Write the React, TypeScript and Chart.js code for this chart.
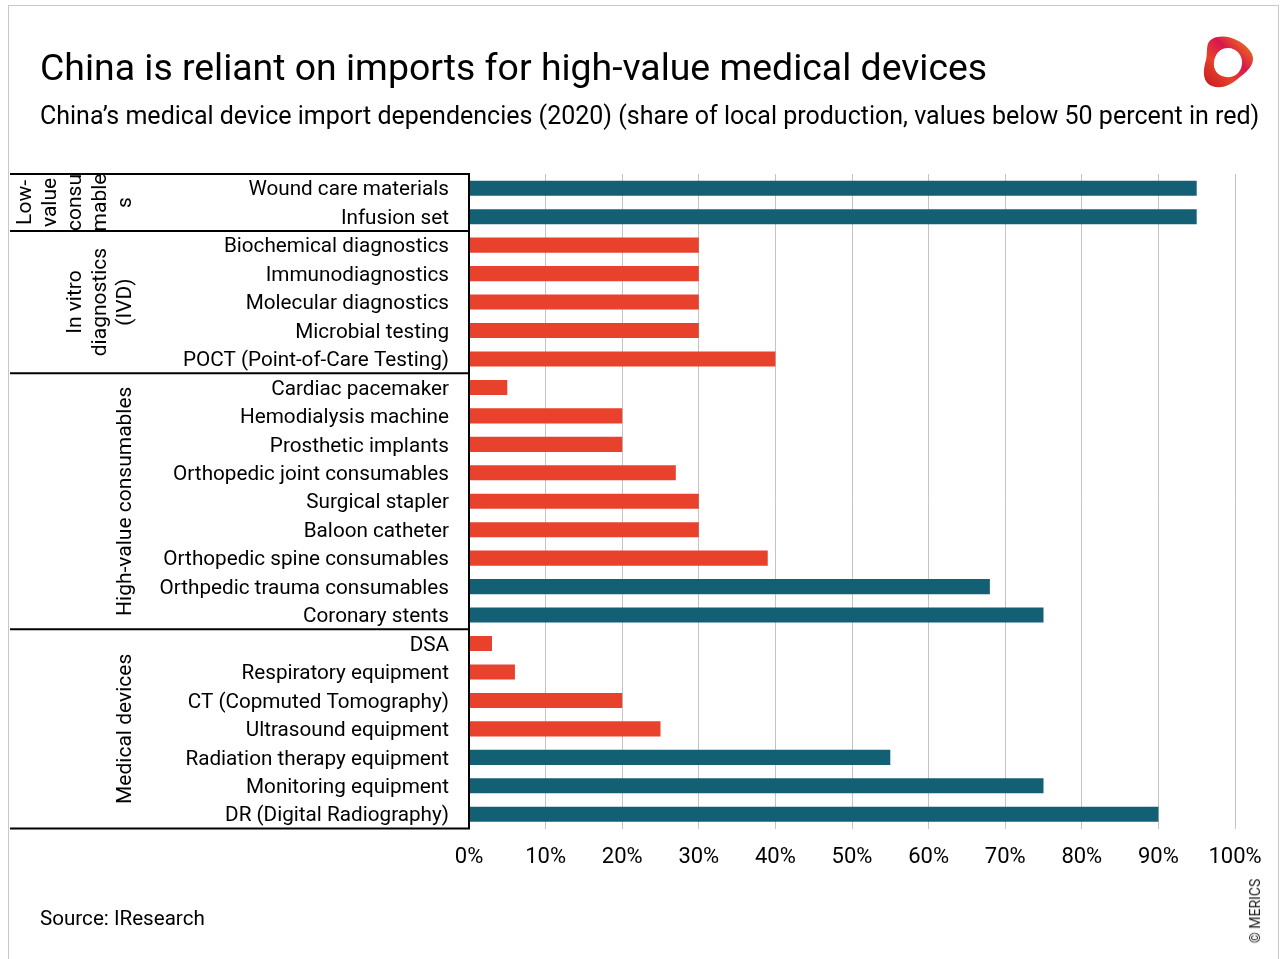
import React, { useEffect, useRef } from "react";
import { Chart, registerables } from "chart.js";

Chart.register(...registerables);

const FONT = "Roboto, 'DejaVu Sans', sans-serif";

const categories = [
  "Wound care materials",
  "Infusion set",
  "Biochemical diagnostics",
  "Immunodiagnostics",
  "Molecular diagnostics",
  "Microbial testing",
  "POCT (Point-of-Care Testing)",
  "Cardiac pacemaker",
  "Hemodialysis machine",
  "Prosthetic implants",
  "Orthopedic joint consumables",
  "Surgical stapler",
  "Baloon catheter",
  "Orthopedic spine consumables",
  "Orthpedic trauma consumables",
  "Coronary stents",
  "DSA",
  "Respiratory equipment",
  "CT (Copmuted Tomography)",
  "Ultrasound equipment",
  "Radiation therapy equipment",
  "Monitoring equipment",
  "DR (Digital Radiography)",
];

const values = [95, 95, 30, 30, 30, 30, 40, 5, 20, 20, 27, 30, 30, 39, 68, 75, 3, 6, 20, 25, 55, 75, 90];

const groupSizes = [2, 5, 9, 7];
const groupLines = [
  ["Low-", "value", "consu", "mable", "s"],
  ["In vitro", "diagnostics", "(IVD)"],
  ["High-value consumables"],
  ["Medical devices"],
];

const THRESHOLD = 50;
const RED = "#e8412c";
const TEAL = "#135f74";

const TITLE = "China is reliant on imports for high-value medical devices";
const SUBTITLE =
  "China\u2019s medical device import dependencies (2020) (share of local production, values below 50 percent in red)";
const SOURCE = "Source: IResearch";

const tablePlugin = {
  id: "groupTable",
  afterDraw(chart: any) {
    const { ctx, chartArea, scales } = chart;
    const y = scales.y;
    const step = y.getPixelForValue(1) - y.getPixelForValue(0);
    const boundary = (i: number) => y.getPixelForValue(i) - step / 2;
    const left = 10;
    const right = chartArea.left;
    ctx.save();
    ctx.strokeStyle = "#000";
    ctx.lineWidth = 2;
    ctx.beginPath();
    ctx.moveTo(right, boundary(0));
    ctx.lineTo(right, boundary(categories.length));
    ctx.stroke();
    let idx = 0;
    const edges = [0];
    groupSizes.forEach((s) => {
      idx += s;
      edges.push(idx);
    });
    edges.forEach((e) => {
      const py = boundary(e);
      ctx.beginPath();
      ctx.moveTo(left, py);
      ctx.lineTo(right + 1, py);
      ctx.stroke();
    });
    ctx.fillStyle = "#000";
    ctx.font = `21px ${FONT}`;
    ctx.textAlign = "center";
    ctx.textBaseline = "middle";
    groupLines.forEach((lines, g) => {
      const top = boundary(edges[g]);
      const bottom = boundary(edges[g + 1]);
      const cy = (top + bottom) / 2;
      ctx.save();
      ctx.beginPath();
      ctx.rect(left, top + 1, 148, bottom - top - 2);
      ctx.clip();
      const n = lines.length;
      lines.forEach((line, i) => {
        const x = 126 - (n - 1 - i) * 25;
        ctx.save();
        ctx.translate(x, cy);
        ctx.rotate(-Math.PI / 2);
        ctx.fillText(line, 0, 0);
        ctx.restore();
      });
      ctx.restore();
    });
    ctx.restore();
  },
};

function ChartCanvas() {
  const ref = useRef<HTMLCanvasElement | null>(null);
  useEffect(() => {
    if (!ref.current) return;
    const chart = new Chart(ref.current, {
      type: "bar",
      data: {
        labels: categories,
        datasets: [
          {
            data: values,
            backgroundColor: values.map((v) => (v < THRESHOLD ? RED : TEAL)),
            borderWidth: 0,
            barPercentage: 0.53,
            categoryPercentage: 1,
          },
        ],
      },
      options: {
        indexAxis: "y",
        responsive: false,
        animation: false,
        layout: { padding: { left: 10, right: 50, top: 174, bottom: 80.5 } },
        plugins: { legend: { display: false }, tooltip: { enabled: false }, title: { display: false } },
        scales: {
          x: {
            min: 0,
            max: 100,
            afterFit: (s: any) => {
              s.height = 50;
            },
            grid: { color: "#c4c4c4", lineWidth: 1, drawTicks: false },
            border: { display: false },
            ticks: {
              stepSize: 10,
              padding: 16,
              color: "#000",
              font: { size: 22, family: FONT },
              callback: (v: any) => `${v}%`,
            },
          },
          y: {
            afterFit: (s: any) => {
              s.width = 459;
            },
            grid: { display: false, drawTicks: false },
            border: { display: false },
            ticks: {
              padding: 20,
              labelOffset: 2,
              color: "#000",
              autoSkip: false,
              font: { size: 20.7, family: FONT },
            },
          },
        },
      },
      plugins: [tablePlugin],
    });
    return () => chart.destroy();
  }, []);
  return (
    <canvas
      ref={ref}
      width={1285}
      height={959}
      style={{ position: "absolute", left: 0, top: 0, display: "block" }}
    />
  );
}

function Logo() {
  return (
    <svg
      width={70}
      height={65}
      viewBox="1192 30 70 65"
      style={{ position: "absolute", left: 1192, top: 30 }}
    >
      <defs>
        <linearGradient id="lg" x1="0" y1="1" x2="1" y2="0">
          <stop offset="0" stopColor="#c4161c" />
          <stop offset="0.35" stopColor="#e8412c" />
          <stop offset="0.6" stopColor="#d8174f" />
          <stop offset="1" stopColor="#f39200" />
        </linearGradient>
      </defs>
      <path
        fillRule="evenodd"
        fill="url(#lg)"
        d="M1212,39 C1225,32 1245,41 1252,54 C1256,63 1248,71 1240,77 C1232,84 1222,90 1212,86 C1202,82 1203,70 1206,60 C1208,52 1205,43 1212,39 Z M1228,48 C1237,48 1243,56 1242,64 C1241,73 1234,78 1226,77 C1217,76 1213,69 1214,62 C1215,54 1220,48 1228,48 Z"
      />
    </svg>
  );
}

export default function App() {
  return (
    <div
      style={{
        position: "fixed",
        left: 0,
        top: 0,
        width: 1285,
        height: 959,
        overflow: "hidden",
        background: "#fff",
        fontFamily: FONT,
      }}
    >
      <div
        style={{
          position: "absolute",
          left: 8,
          top: 5,
          width: 1271,
          height: 1000,
          border: "1px solid #c8c8c8",
          boxSizing: "border-box",
        }}
      />
      <ChartCanvas />
      <div
        style={{
          position: "absolute",
          left: 40,
          top: 48,
          fontSize: 37.4,
          lineHeight: "38px",
          whiteSpace: "nowrap",
          color: "#000",
        }}
      >
        {TITLE}
      </div>
      <div
        style={{
          position: "absolute",
          left: 40,
          top: 103,
          fontSize: 25,
          lineHeight: "25px",
          whiteSpace: "nowrap",
          color: "#000",
        }}
      >
        {SUBTITLE}
      </div>
      <div
        style={{
          position: "absolute",
          left: 40,
          top: 908,
          fontSize: 20.6,
          lineHeight: "21px",
          whiteSpace: "nowrap",
          color: "#000",
        }}
      >
        {SOURCE}
      </div>
      <div
        style={{
          position: "absolute",
          left: 1255,
          top: 911,
          transform: "translate(-50%, -50%) rotate(-90deg)",
          fontSize: 14,
          whiteSpace: "nowrap",
          color: "#222",
        }}
      >
        {"\u00a9 MERICS"}
      </div>
      <Logo />
    </div>
  );
}
